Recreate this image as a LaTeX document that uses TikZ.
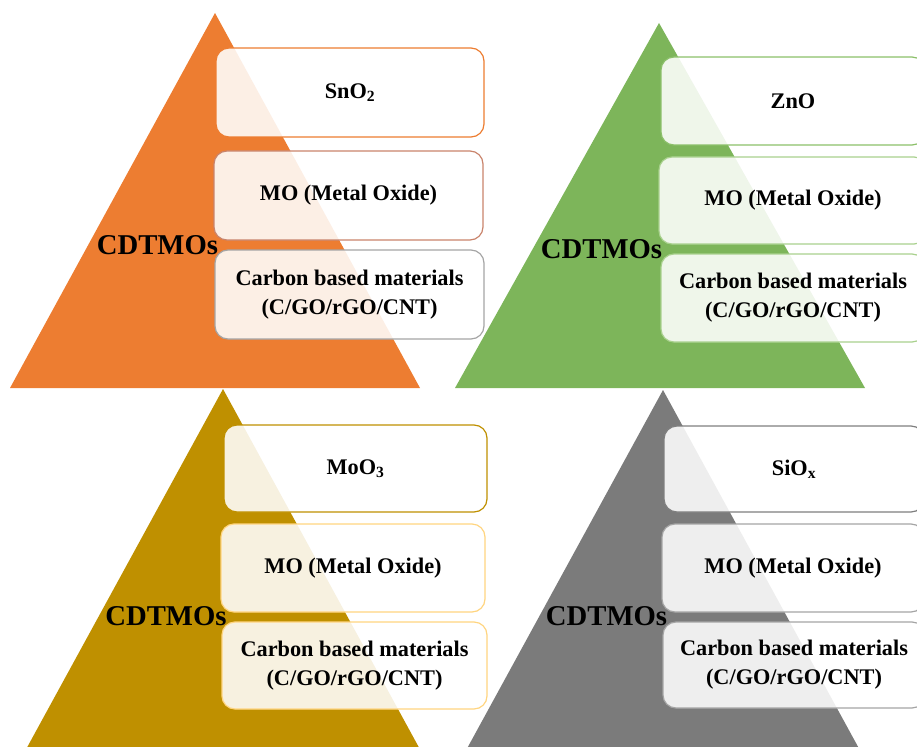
\documentclass[tikz,border=0pt]{standalone}
\usepackage{fontspec}
\setmainfont{Liberation Serif}
\definecolor{orangeT}{HTML}{ED7D31}
\definecolor{greenT}{HTML}{7DB55A}
\definecolor{goldT}{HTML}{BF9000}
\definecolor{grayT}{HTML}{7B7B7B}
\definecolor{oB1}{HTML}{ED7D31}
\definecolor{oB2}{HTML}{C9846C}
\definecolor{oB3}{HTML}{A5A5A5}
\definecolor{gB1}{HTML}{8CC06A}
\definecolor{gB2}{HTML}{A9D18E}
\definecolor{yB1}{HTML}{BF9000}
\definecolor{yB2}{HTML}{FFD580}
\definecolor{sB1}{HTML}{7F7F7F}
\definecolor{sB2}{HTML}{A5A5A5}
\begin{document}
\begin{tikzpicture}[x=1pt,y=-1pt,
  box/.style={rectangle, rounded corners=13pt, fill=white, fill opacity=0.88, text opacity=1,
    line width=1.2pt, minimum height=88pt, minimum width=268pt, inner sep=0pt, align=center,
    font=\bfseries\fontsize{22.3}{29}\selectfont},
  lbl/.style={font=\bfseries\fontsize{28.7}{30}\selectfont, anchor=base, inner sep=0pt}]
\useasboundingbox (0,0) rectangle (917,746);
\clip (0,0) rectangle (917,746);
% triangles
\fill[orangeT] (10,388) -- (215,13) -- (420,388) -- cycle;
\fill[greenT] (455,388) -- (659,23) -- (865,388) -- cycle;
\fill[goldT] (18,764) -- (223,389) -- (428,764) -- cycle;
\fill[grayT] (458,765) -- (663,390) -- (868,765) -- cycle;
% orange boxes
\node[box, draw=oB1, minimum height=89pt] (o1) at (350,92.5) {SnO\textsubscript{2}};
\node[box, draw=oB2, minimum height=89pt, minimum width=269pt] (o2) at (348.5,195.5) {MO (Metal Oxide)};
\node[box, draw=oB3, minimum height=89pt, minimum width=269pt] (o3) at (349.5,294.5) {Carbon based materials\\(C/GO/rGO/CNT)};
\node[lbl] (oc) at (157.5,254) {CDTMOs};
% green boxes
\node[box, draw=gB1, minimum width=264pt] (g1) at (793,101) {ZnO};
\node[box, draw=gB2, minimum height=87pt] (g2) at (793,200.5) {MO (Metal Oxide)};
\node[box, draw=gB2, minimum width=264pt] (g3) at (793,298) {Carbon based materials\\(C/GO/rGO/CNT)};
\node[lbl] (gc) at (601.5,258) {CDTMOs};
% gold boxes
\node[box, draw=yB1, minimum height=87pt, minimum width=263pt] (y1) at (355.5,468.5) {MoO\textsubscript{3}};
\node[box, draw=yB2, minimum width=264pt] (y2) at (353,568) {MO (Metal Oxide)};
\node[box, draw=yB2, minimum height=87pt, minimum width=265pt] (y3) at (354.5,665.5) {Carbon based materials\\(C/GO/rGO/CNT)};
\node[lbl] (yc) at (166,625) {CDTMOs};
% gray boxes
\node[box, draw=sB1, minimum height=86pt, minimum width=260pt] (s1) at (794,469) {SiO\textsubscript{x}};
\node[box, draw=sB2, minimum width=262pt] (s2) at (793,568) {MO (Metal Oxide)};
\node[box, draw=sB2, minimum height=86pt, minimum width=262pt] (s3) at (794,665) {Carbon based materials\\(C/GO/rGO/CNT)};
\node[lbl] (sc) at (606.5,625) {CDTMOs};
\end{tikzpicture}
\end{document}
